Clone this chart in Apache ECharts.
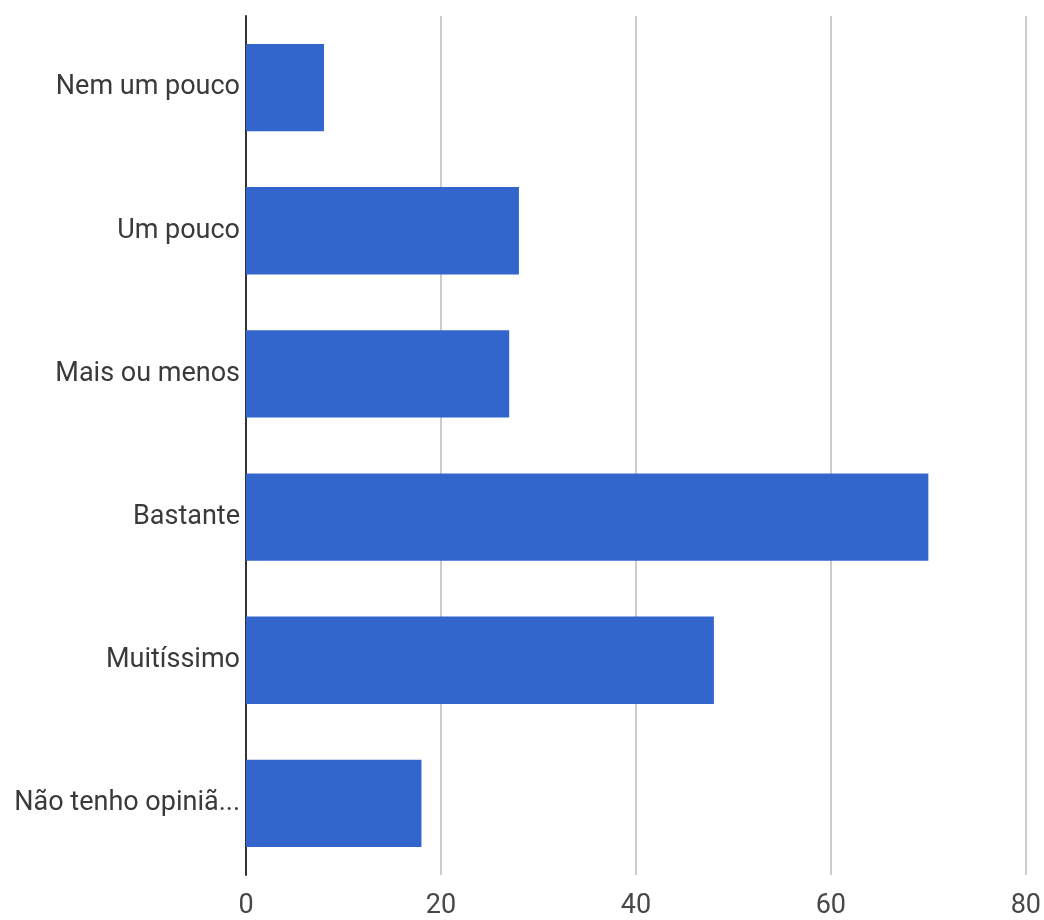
<!DOCTYPE html>
<html>
<head>
<meta charset="utf-8">
<script src="https://cdn.jsdelivr.net/npm/echarts@6/dist/echarts.min.js"></script>
<style>
  html, body { margin: 0; padding: 0; background: #fff; }
  #chart { width: 1044px; height: 920px; }
</style>
</head>
<body>
<div id="chart"></div>
<script>
// Survey answers and how many respondents chose each one
const categories = ['Nem um pouco', 'Um pouco', 'Mais ou menos', 'Bastante', 'Muitíssimo', 'Não tenho opiniã...'];
const counts = [8, 28, 27, 70, 48, 18];
const axisTicks = [0, 20, 40, 60, 80];

const chart = echarts.init(document.getElementById('chart'), null, { renderer: 'canvas' });

chart.setOption({
  animation: false,
  backgroundColor: '#ffffff',
  grid: { left: 246, right: 17, top: 16, bottom: 45, containLabel: false },
  xAxis: {
    type: 'value',
    min: axisTicks[0],
    max: axisTicks[axisTicks.length - 1],
    interval: axisTicks[1] - axisTicks[0],
    axisLine: { show: false },
    axisTick: { show: false },
    splitLine: {
      show: true,
      lineStyle: { color: '#cccccc', width: 2 },
      showMinLine: false
    },
    axisLabel: {
      color: '#474747',
      fontFamily: 'Roboto',
      fontSize: 27,
      margin: 18
    }
  },
  yAxis: {
    type: 'category',
    data: categories,
    inverse: true,
    axisLine: { show: true, lineStyle: { color: '#333333', width: 2 } },
    axisTick: { show: false },
    splitLine: { show: false },
    axisLabel: {
      color: '#3a3a3a',
      fontFamily: 'Roboto',
      fontSize: 27,
      margin: 6
    }
  },
  series: [{
    type: 'bar',
    data: counts,
    barCategoryGap: '39%',
    itemStyle: { color: '#3366cc' },
    z: 1
  }]
});
</script>
</body>
</html>
